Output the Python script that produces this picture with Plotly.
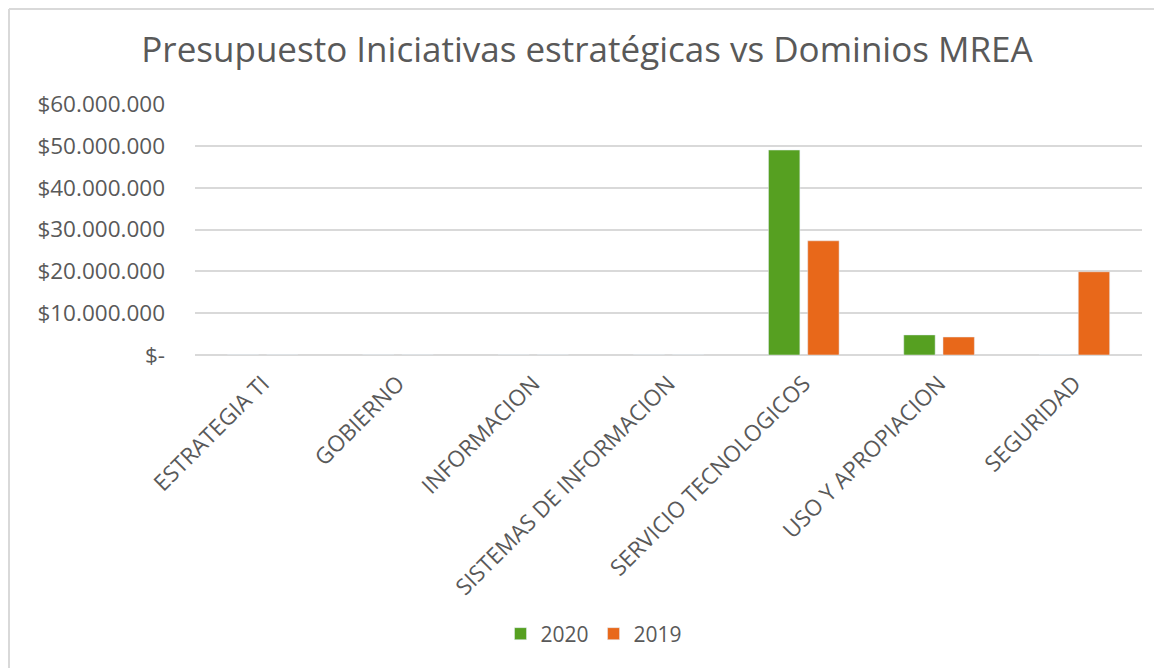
import plotly.graph_objects as go

categories = ["ESTRATEGIA TI", "GOBIERNO", "INFORMACION", "SISTEMAS DE INFORMACION",
              "SERVICIO TECNOLOGICOS", "USO Y APROPIACION", "SEGURIDAD"]
values_2020 = [0, 0, 0, 0, 49000000, 4800000, 0]
values_2019 = [0, 0, 0, 0, 27300000, 4300000, 19900000]
y_tick_vals = [0, 10000000, 20000000, 30000000, 40000000, 50000000, 60000000]
y_tick_text = ["$-", "$10.000.000", "$20.000.000", "$30.000.000", "$40.000.000",
               "$50.000.000", "$60.000.000"]

# page body has an 8px margin, so the figure is 8px smaller and shifted
OFF = 8
W, H = 1162 - OFF, 668 - OFF
L, R, T, B = 195 - OFF, 1142 - OFF, 104 - OFF, 355 - OFF
pw, ph = R - L, B - T

def px(x):
    return (x - L) / pw

def py(y):
    return (B - y) / ph

font_family = "Open Sans"
txt = "#595959"

fig = go.Figure()
fig.add_trace(go.Bar(name="2020", x=categories, y=values_2020, marker_color="#56A021"))
fig.add_trace(go.Bar(name="2019", x=categories, y=values_2019, marker_color="#E8681A"))

fig.update_layout(
    width=W, height=H,
    margin=dict(l=L, r=W - R, t=T, b=H - B, autoexpand=False),
    paper_bgcolor="white", plot_bgcolor="white",
    barmode="group", bargap=0.42, bargroupgap=0.2,
    font=dict(family=font_family, color=txt, size=22),
    title=dict(text="Presupuesto Iniciativas estratégicas vs Dominios MREA",
               x=(587 - OFF) / W, xref="container", xanchor="center",
               y=1 - (50 - OFF) / H, yref="container", yanchor="middle",
               font=dict(size=35, color=txt, family=font_family)),
    legend=dict(orientation="h", xref="container", x=(594 - OFF) / W, xanchor="center",
                yref="container", y=1 - (634 - OFF) / H, yanchor="middle",
                font=dict(size=21, color=txt), itemwidth=30, traceorder="normal"),
    showlegend=True,
)
fig.update_yaxes(range=[0, 60000000], tickvals=y_tick_vals, ticktext=y_tick_text,
                 showgrid=True, gridcolor="#D9D9D9", gridwidth=1.5,
                 zeroline=True, zerolinecolor="#D9D9D9", zerolinewidth=1.5,
                 showline=False, ticks="", ticklabelstandoff=29,
                 tickfont=dict(size=22.5, color=txt))
fig.update_xaxes(tickangle=-45, showline=False, ticks="", showgrid=False,
                 ticklabelstandoff=10,
                 tickfont=dict(size=22.5, color=txt))

# chart frame (left and top edges visible)
fig.add_shape(type="line", xref="paper", yref="paper",
              x0=px(1), x1=px(1), y0=py(1), y1=py(H + 2),
              line=dict(color="#D9D9D9", width=2))
fig.add_shape(type="line", xref="paper", yref="paper",
              x0=px(1), x1=px(W + 2), y0=py(1), y1=py(1),
              line=dict(color="#D9D9D9", width=2))

fig.write_html("out.html")
